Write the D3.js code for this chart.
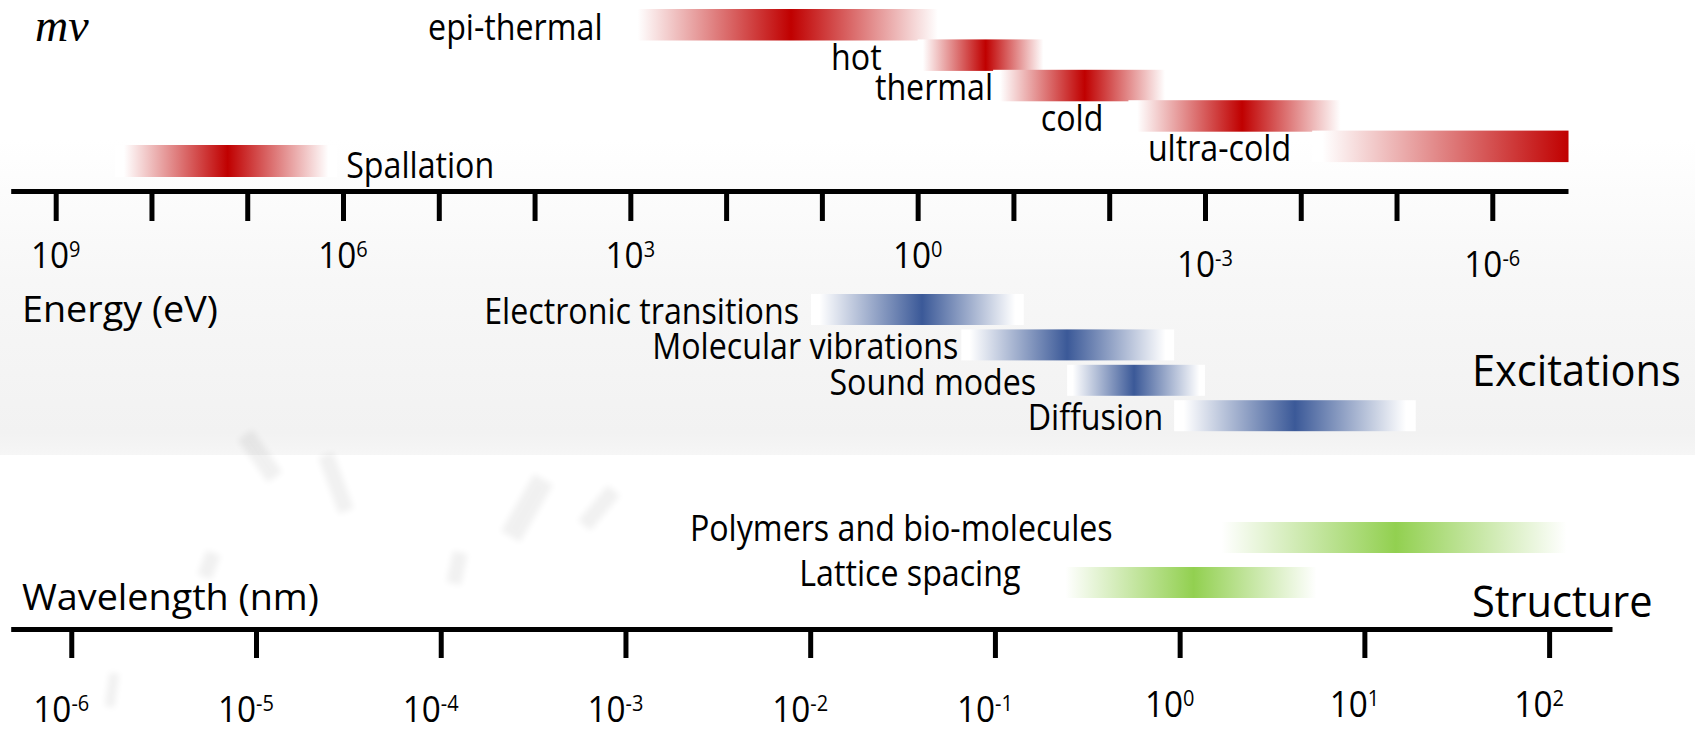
<!DOCTYPE html>
<html><head><meta charset="utf-8">
<script src="https://cdn.jsdelivr.net/npm/d3@7"></script>
<style>
html,body{margin:0;padding:0;background:#fff;overflow:hidden}
svg{display:block}
</style></head><body>
<svg id="chart" width="1695" height="733"></svg>
<script>
// ================= DATA =================
// Energy axis (eV), runs from high energy (left) to low energy (right)
const energyTicks = [1e9,1e8,1e7,1e6,1e5,1e4,1e3,1e2,1e1,1e0,1e-1,1e-2,1e-3,1e-4,1e-5,1e-6];
const energyLabelExps = [9, 6, 3, 0, -3, -6];
const energyExtent = [2.95e9, 1.62e-7];

// Wavelength axis (nm)
const wavelengthTicks = [1e-6,1e-5,1e-4,1e-3,1e-2,1e-1,1e0,1e1,1e2];
const wavelengthLabelExps = [-6, -5, -4, -3, -2, -1, 0, 1, 2];
const wavelengthExtent = [4.7e-7, 219];

// Neutron sources (energy in eV): start, peak, end
const neutronNames = ["epi-thermal", "hot", "thermal", "cold", "ultra-cold"];
const neutronStart = [1.15e3, 1.0, 0.163, 6.3e-3, 7.6e-5];
const neutronPeak  = [21, 0.195, 0.018, 4.1e-4, 1.6e-7];
const neutronEnd   = [0.45, 0.043, 2.2e-3, 3.1e-5, 1.6e-7];

const spallationNames = ["Spallation"];
const spallationStart = [2.4e8];
const spallationPeak  = [1.6e7];
const spallationEnd   = [1.15e6];

// Excitations (energy in eV)
const excitationNames = ["Electronic transitions", "Molecular vibrations", "Sound modes", "Diffusion"];
const excitationStart = [13, 0.35, 0.0275, 2.1e-3];
const excitationPeak  = [0.9, 0.0275, 5.5e-3, 1.15e-4];
const excitationEnd   = [0.078, 2.1e-3, 1.0e-3, 6.3e-6];

// Structure (wavelength in nm)
const structureNames = ["Polymers and bio-molecules", "Lattice spacing"];
const structureStart = [1.4, 0.21];
const structurePeak  = [14.8, 1.19];
const structureEnd   = [150, 6.3];

// ================= LAYOUT / STYLE =================
const FONT = '"Open Sans", "DejaVu Sans", sans-serif';
const SX_BAR = 0.87;       // horizontal condensing of bar labels
const SX_TICK = 0.9;
const SX_AXIS = 1.02;
const SX_BIG = 0.945;
const labelSize = 37;
const bigSize = 44;
const energyAxisY = 191, wavelengthAxisY = 629;
const energyRange = [10.7, 1568];
const wavelengthRange = [10.7, 1612];
const RED = "#c00000", BLUE = "#3b5998", GREEN = "#92d050";

const neutronRow = {top: 9, step: 30.4, h: 31.5};
const neutronGap = [22, 36, 0, 25, 21];
const spallationRow = {top: 145, step: 0, h: 32};
const excitationRow = {top: 294, step: 35.4, h: 31};
const excitationGap = [12, 3, 31, 11];
const structureRow = {top: 522, step: 45, h: 31};
const structureGap = [94, 34];

const svg = d3.select("#chart");
const defs = svg.append("defs");

const xE = d3.scaleLog().domain(energyExtent).range(energyRange);
const xW = d3.scaleLog().domain(wavelengthExtent).range(wavelengthRange);

// ---------- background ----------
svg.append("rect").attr("width", 1695).attr("height", 733).attr("fill", "#fff");
const bg = defs.append("linearGradient").attr("id", "bgGrad").attr("x1", 0).attr("x2", 0).attr("y1", 0).attr("y2", 1);
[[0, "#ffffff"], [0.22, "#fbfbfb"], [0.45, "#f7f7f7"], [0.93, "#f2f2f2"], [1, "#f6f6f6"]]
  .forEach(([o, c]) => bg.append("stop").attr("offset", o).attr("stop-color", c));
svg.append("rect").attr("x", 0).attr("y", 140).attr("width", 1695).attr("height", 315).attr("fill", "url(#bgGrad)");

// faint blurred decorative shapes (background ghost images)
const blur = defs.append("filter").attr("id", "blur").attr("x", "-50%").attr("y", "-50%").attr("width", "200%").attr("height", "200%");
blur.append("feGaussianBlur").attr("stdDeviation", 3);
const ghosts = [
  [260, 456, 18, 52, -35], [336, 483, 16, 60, -20], [527, 508, 22, 66, 30],
  [599, 508, 16, 46, 40], [457, 568, 15, 32, 12], [209, 565, 15, 26, 20], [112, 690, 10, 34, 8]
];
svg.append("g").selectAll("rect").data(ghosts).join("rect")
  .attr("x", d => -d[2] / 2).attr("y", d => -d[3] / 2)
  .attr("width", d => d[2]).attr("height", d => d[3])
  .attr("transform", d => `translate(${d[0]},${d[1]}) rotate(${d[4]})`)
  .attr("fill", "#000").attr("opacity", 0.055).attr("filter", "url(#blur)");

// ---------- helpers ----------
function styleText(sel, size) {
  return sel.style("font-family", FONT).style("font-size", size + "px").attr("fill", "#000");
}
function placeText(sel, x, y, sx) {
  return sel.attr("transform", `translate(${x},${y}) scale(${sx},1)`);
}

function drawBars(id, names, starts, peaks, ends, scale, color, row, gaps, side, labelDy) {
  const data = names.map((n, i) => ({n, i, s: starts[i], p: peaks[i], e: ends[i]}));
  const g = svg.append("g").attr("class", id);
  data.forEach(d => {
    const x0 = scale(d.s), x1 = scale(d.e), xp = scale(d.p);
    const lo = Math.min(x0, x1), hi = Math.max(x0, x1);
    const po = (xp - lo) / (hi - lo);
    const grad = defs.append("linearGradient").attr("id", `${id}${d.i}`)
      .attr("x1", 0).attr("x2", 1).attr("y1", 0).attr("y2", 0);
    const m = 0.04;
    const stops = po > 0.995
      ? [[0, "#fff"], [m, "#fff"], [1, color]]
      : [[0, "#fff"], [m, "#fff"], [po, color], [1 - m, "#fff"], [1, "#fff"]];
    stops.forEach(([o, c]) => grad.append("stop").attr("offset", o).attr("stop-color", c));
    const y = row.top + d.i * row.step;
    g.append("rect").attr("x", lo).attr("y", y).attr("width", hi - lo).attr("height", row.h)
      .attr("fill", `url(#${id}${d.i})`);
    const t = g.append("text").text(d.n).attr("text-anchor", side === "left" ? "end" : "start");
    styleText(t, labelSize);
    const tx = side === "left" ? lo - gaps[d.i] : hi + gaps[d.i];
    placeText(t, tx, y + row.h + labelDy, SX_BAR);
  });
}

function drawAxis(scale, ticks, y, size) {
  const ax = d3.axisBottom(scale).tickValues(ticks).tickSize(size).tickSizeOuter(0).tickFormat("");
  svg.append("g").attr("transform", `translate(0,${y})`).call(ax)
    .call(g => g.select(".domain").attr("stroke", "#000").attr("stroke-width", 5))
    .call(g => g.selectAll(".tick line").attr("stroke", "#000").attr("stroke-width", 5));
}

function drawTickLabels(exps, scale, y, negDy, dx) {
  const g = svg.append("g");
  g.selectAll("text").data(exps).join("text")
    .attr("text-anchor", "middle")
    .style("font-family", FONT).style("font-size", labelSize + "px").attr("fill", "#000")
    .attr("transform", d => `translate(${scale(Math.pow(10, d)) + dx},${y + (d < 0 ? negDy : 0)}) scale(${SX_TICK},1)`)
    .each(function (d) {
      const t = d3.select(this);
      t.append("tspan").text("10");
      t.append("tspan").attr("dy", -11).style("font-size", "0.6em").text(String(d));
    });
}

// ---------- axes ----------
drawAxis(xE, energyTicks, energyAxisY, 30);
drawAxis(xW, wavelengthTicks, wavelengthAxisY, 29);
drawTickLabels(energyLabelExps, xE, 268, 9, 0);
drawTickLabels(wavelengthLabelExps, xW, 717, 5, -10);

// ---------- bars ----------
drawBars("neu", neutronNames, neutronStart, neutronPeak, neutronEnd, xE, RED, neutronRow, neutronGap, "left", -1);
drawBars("spa", spallationNames, spallationStart, spallationPeak, spallationEnd, xE, RED, spallationRow, [9], "right", 1);
drawBars("exc", excitationNames, excitationStart, excitationPeak, excitationEnd, xE, BLUE, excitationRow, excitationGap, "left", -1);
drawBars("str", structureNames, structureStart, structurePeak, structureEnd, xW, GREEN, structureRow, structureGap, "left", -12);

// ---------- titles ----------
svg.append("text").text("mv").attr("x", 35).attr("y", 41)
  .style("font-family", '"Liberation Serif", "DejaVu Serif", serif').style("font-style", "italic")
  .style("font-size", "46px").attr("fill", "#000");
placeText(styleText(svg.append("text").text("Energy (eV)"), labelSize), 22, 322, SX_AXIS);
placeText(styleText(svg.append("text").text("Wavelength (nm)"), labelSize), 22, 610, SX_AXIS);
placeText(styleText(svg.append("text").text("Excitations"), bigSize), 1472, 386, SX_BIG);
placeText(styleText(svg.append("text").text("Structure"), bigSize), 1472, 617, SX_BIG);
</script>
</body></html>
